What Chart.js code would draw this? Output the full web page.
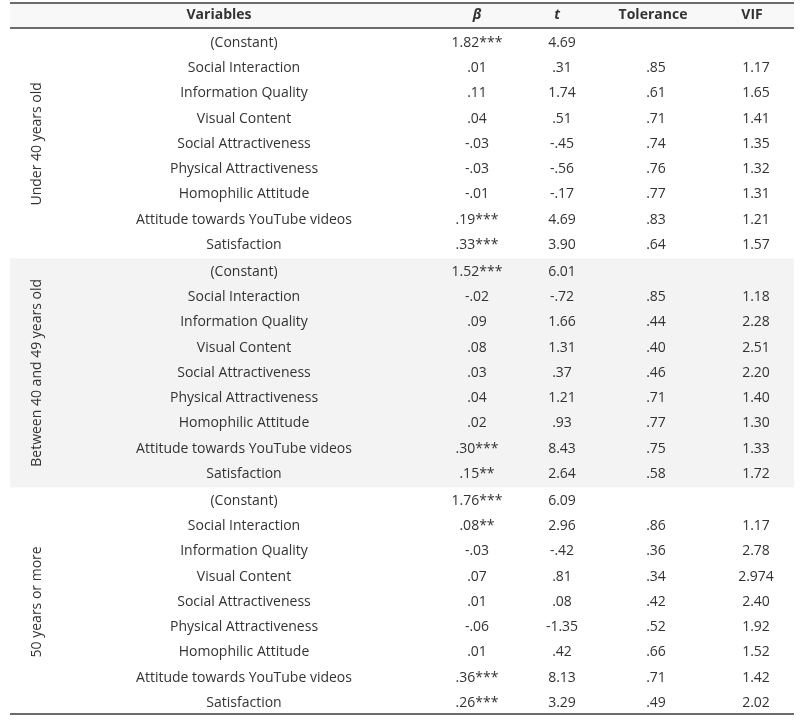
<!DOCTYPE html>
<html lang="en">
<head>
    <meta charset="UTF-8">
    <title>Regression by age group</title>
    <script src="https://cdn.jsdelivr.net/npm/chart.js"></script>
    <style>
        html, body { margin: 0; padding: 0; background: #fff; }
        #box { width: 800px; height: 720px; }
    </style>
</head>
<body>
    <div id="box"><canvas id="tableChart" width="800" height="720"></canvas></div>
    <script>
        // data
        const headers = ['Variables', 'β', 't', 'Tolerance', 'VIF'];
        const groups = ['Under 40 years old', 'Between 40 and 49 years old', '50 years or more'];
        const variables = ['(Constant)', 'Social Interaction', 'Information Quality', 'Visual Content',
            'Social Attractiveness', 'Physical Attractiveness', 'Homophilic Attitude',
            'Attitude towards YouTube videos', 'Satisfaction'];

        const betaUnder40 = ['1.82***', '.01', '.11', '.04', '-.03', '-.03', '-.01', '.19***', '.33***'];
        const tUnder40 = ['4.69', '.31', '1.74', '.51', '-.45', '-.56', '-.17', '4.69', '3.90'];
        const tolUnder40 = ['', '.85', '.61', '.71', '.74', '.76', '.77', '.83', '.64'];
        const vifUnder40 = ['', '1.17', '1.65', '1.41', '1.35', '1.32', '1.31', '1.21', '1.57'];

        const beta40to49 = ['1.52***', '-.02', '.09', '.08', '.03', '.04', '.02', '.30***', '.15**'];
        const t40to49 = ['6.01', '-.72', '1.66', '1.31', '.37', '1.21', '.93', '8.43', '2.64'];
        const tol40to49 = ['', '.85', '.44', '.40', '.46', '.71', '.77', '.75', '.58'];
        const vif40to49 = ['', '1.18', '2.28', '2.51', '2.20', '1.40', '1.30', '1.33', '1.72'];

        const beta50plus = ['1.76***', '.08**', '-.03', '.07', '.01', '-.06', '.01', '.36***', '.26***'];
        const t50plus = ['6.09', '2.96', '-.42', '.81', '.08', '-1.35', '.42', '8.13', '3.29'];
        const tol50plus = ['', '.86', '.36', '.34', '.42', '.52', '.66', '.71', '.49'];
        const vif50plus = ['', '1.17', '2.78', '2.974', '2.40', '1.92', '1.52', '1.42', '2.02'];

        const groupCols = [
            [betaUnder40, tUnder40, tolUnder40, vifUnder40],
            [beta40to49, t40to49, tol40to49, vif40to49],
            [beta50plus, t50plus, tol50plus, vif50plus]
        ];

        // layout (x in px-like units 0..800, y in row units)
        const colX = [244, 477, 562, 656, 756];
        const headX = [219, 477, 557, 653, 752];
        const groupX = 37;
        const tableLeft = 10, tableRight = 794;
        const rowPitch = 25.29, firstRowPx = 42.7;
        const groupGap = 0.055;
        const headerRow = -1.095;
        const rowsPerGroup = variables.length;
        const textColor = '#333';
        const fontFam = '"Open Sans", "Noto Sans", sans-serif';

        const rowY = (g, r) => g * rowsPerGroup + r + g * groupGap;

        // one point per cell, text drawn at the point positions
        const cellPoints = [];
        const headerPoints = headers.map((h, c) => ({ x: headX[c], y: headerRow, text: h }));
        const groupPoints = [];
        groupCols.forEach((cols, g) => {
            variables.forEach((v, r) => {
                const row = rowY(g, r);
                cellPoints.push({ x: colX[0], y: row, text: v });
                cols.forEach((arr, c) => {
                    cellPoints.push({ x: colX[c + 1], y: row, text: arr[r] });
                });
            });
            groupPoints.push({ x: groupX, y: rowY(g, (rowsPerGroup - 1) / 2), text: groups[g] });
        });

        const tablePlugin = {
            id: 'tablePlugin',
            beforeDatasetsDraw(chart) {
                const ctx = chart.ctx;
                const xs = chart.scales.x, ys = chart.scales.y;
                const left = xs.getPixelForValue(tableLeft);
                const right = xs.getPixelForValue(tableRight);
                ctx.save();
                // shaded band for the middle group
                const top2 = ys.getPixelForValue(rowY(1, -0.5) - groupGap / 2);
                const bot2 = ys.getPixelForValue(rowY(1, rowsPerGroup - 0.5) + groupGap / 2);
                ctx.fillStyle = '#f3f3f3';
                ctx.fillRect(left, top2, right - left, bot2 - top2);
                // header band
                const hTop = ys.getPixelForValue(-1.554);
                const hBot = ys.getPixelForValue(-0.58);
                ctx.fillStyle = '#f8f8f8';
                ctx.fillRect(left, hTop, right - left, hBot - hTop);
                // rules
                ctx.strokeStyle = '#6b6b6b';
                ctx.lineWidth = 2;
                [-1.554, -0.58, rowY(2, rowsPerGroup - 1) + 0.44].forEach(v => {
                    const y = Math.round(ys.getPixelForValue(v));
                    ctx.beginPath();
                    ctx.moveTo(left, y);
                    ctx.lineTo(right, y);
                    ctx.stroke();
                });
                ctx.restore();
            },
            afterDatasetsDraw(chart) {
                const ctx = chart.ctx;
                ctx.save();
                ctx.fillStyle = textColor;
                ctx.textAlign = 'center';
                ctx.textBaseline = 'middle';
                chart.data.datasets.forEach((ds, i) => {
                    const meta = chart.getDatasetMeta(i);
                    meta.data.forEach((pt, j) => {
                        const txt = ds.data[j].text;
                        if (!txt) return;
                        if (ds.kind === 'header') {
                            const it = (txt === 'β' || txt === 't') ? 'italic ' : '';
                            ctx.font = it + 'bold 14px ' + fontFam;
                            ctx.fillText(txt, pt.x, pt.y);
                        } else if (ds.kind === 'group') {
                            ctx.save();
                            ctx.translate(pt.x, pt.y);
                            ctx.rotate(-Math.PI / 2);
                            ctx.font = '14px ' + fontFam;
                            ctx.fillText(txt, 0, 0);
                            ctx.restore();
                        } else {
                            ctx.font = '14px ' + fontFam;
                            ctx.fillText(txt, pt.x, pt.y);
                        }
                    });
                });
                ctx.restore();
            }
        };

        new Chart(document.getElementById('tableChart'), {
            type: 'scatter',
            data: {
                datasets: [
                    { kind: 'header', data: headerPoints, pointRadius: 0 },
                    { kind: 'cell', data: cellPoints, pointRadius: 0 },
                    { kind: 'group', data: groupPoints, pointRadius: 0 }
                ]
            },
            options: {
                responsive: false,
                animation: false,
                events: [],
                layout: { padding: 0 },
                plugins: { legend: { display: false }, tooltip: { enabled: false } },
                scales: {
                    x: { type: 'linear', display: false, min: 0, max: 800 },
                    y: {
                        type: 'linear', display: false, reverse: true,
                        min: -firstRowPx / rowPitch, max: (720 - firstRowPx) / rowPitch
                    }
                }
            },
            plugins: [tablePlugin]
        });
    </script>
</body>
</html>
